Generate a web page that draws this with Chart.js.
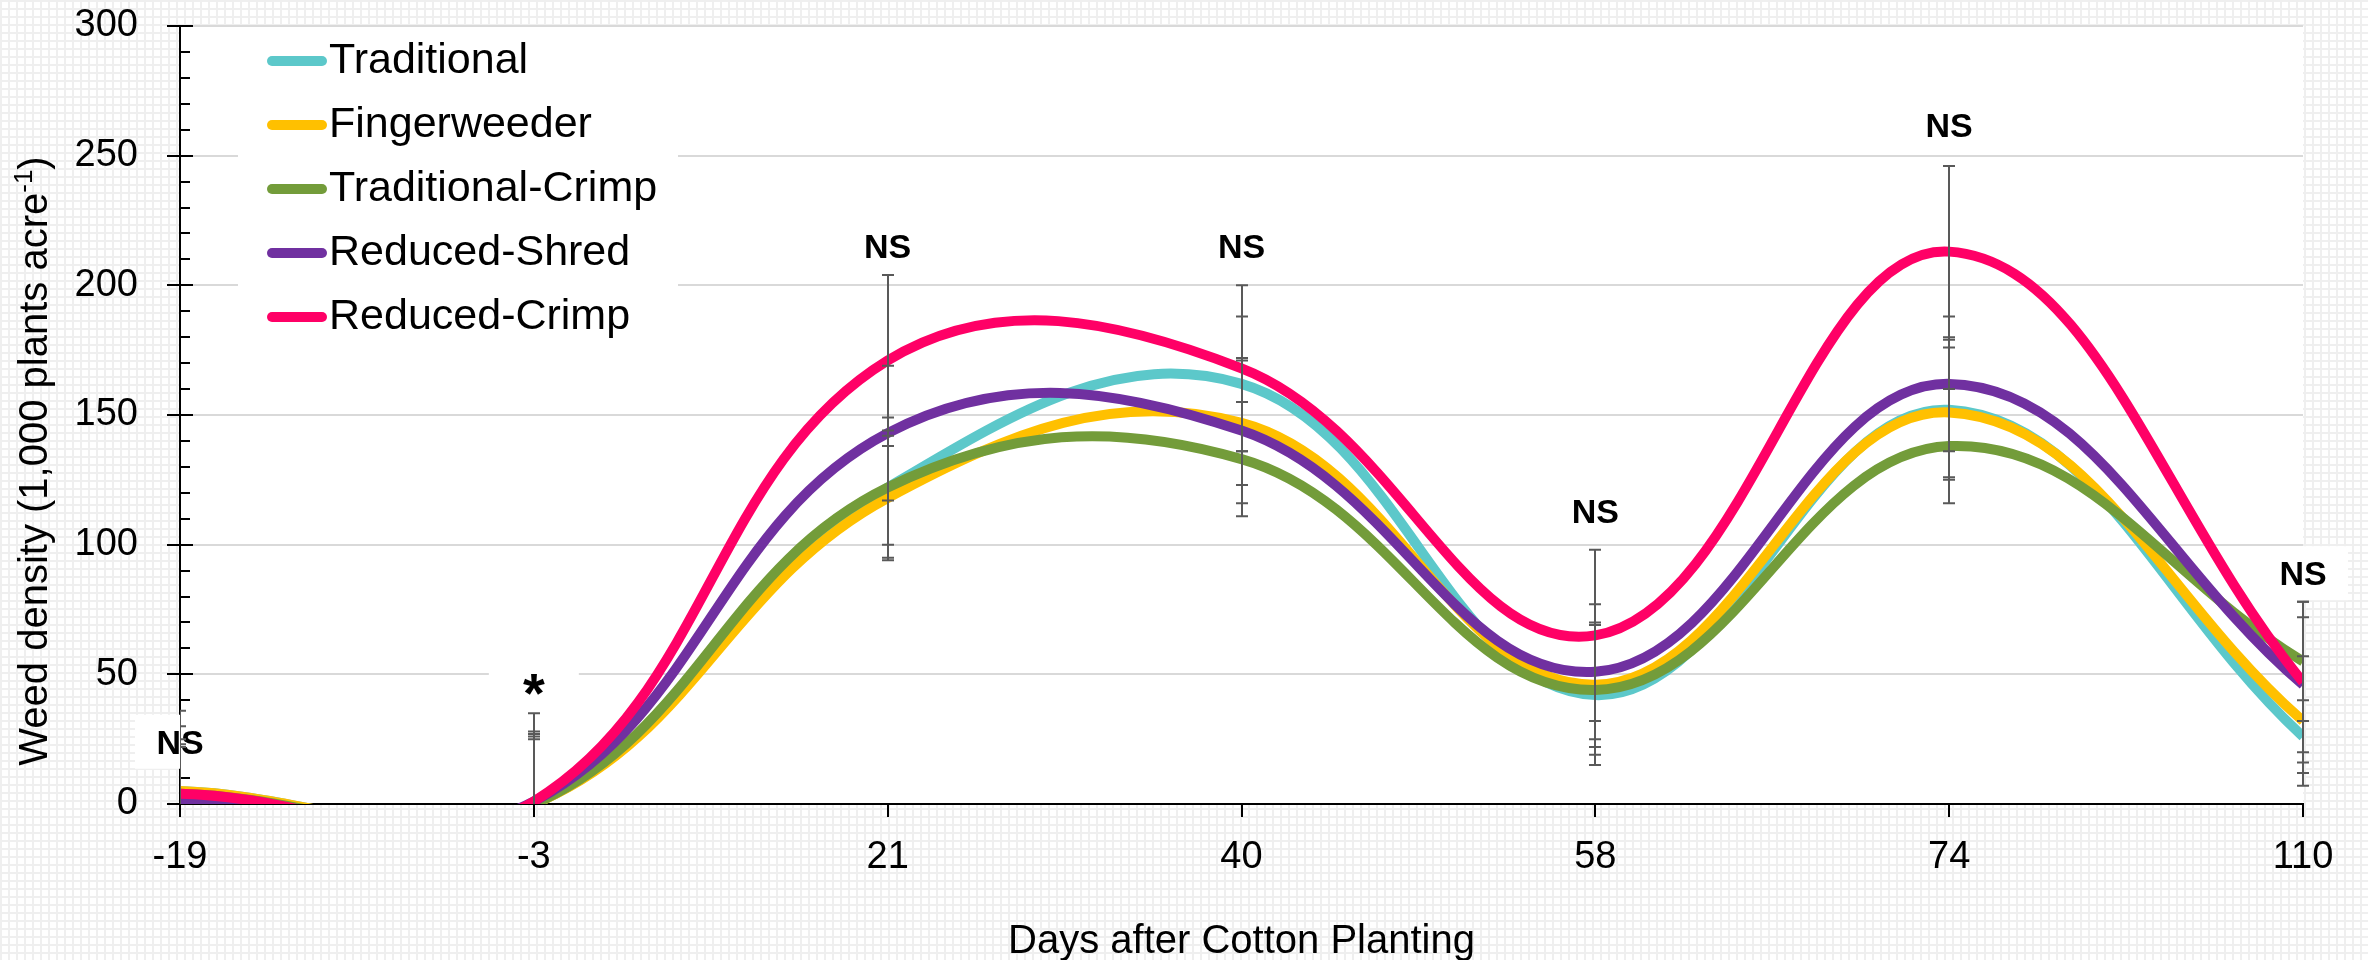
<!DOCTYPE html>
<html>
<head>
<meta charset="utf-8">
<script src="https://cdn.jsdelivr.net/npm/chart.js@4.4.1/dist/chart.umd.min.js"></script>
<style>
  html, body { margin: 0; padding: 0; }
  body {
    width: 2368px;
    height: 960px;
    overflow: hidden;
    background-color: #fff;
    background-image: linear-gradient(#efefef 2px, transparent 2px),
                      linear-gradient(90deg, #efefef 2px, transparent 2px);
    background-size: 8px 8px;
  }
</style>
</head>
<body>
<canvas id="chart" width="2368" height="960"></canvas>
<script>
// days after cotton planting (x categories)
const days = ['-19', '-3', '21', '40', '58', '74', '110'];

// weed density, 1,000 plants per acre
const traditional      = [5, 0, 122, 162, 42, 152, 26];
const fingerweeder     = [5, 0, 118, 147, 46, 151, 32];
const traditional_crimp = [4, 0, 122, 133, 44, 138, 55];
const reduced_shred    = [1, 1, 143, 144, 51, 162, 46];
const reduced_crimp    = [4, 1, 171, 168, 65, 213, 47];

// standard errors
const traditional_err      = [25, 35, 27, 26, 27, 27, 14];
const fingerweeder_err     = [20, 28, 24, 24, 24, 25, 25];
const traditional_crimp_err = [18, 27, 22, 22, 25, 22, 23];
const reduced_shred_err    = [22, 25, 26, 28, 26, 26, 26];
const reduced_crimp_err    = [32, 24, 33, 32, 33, 33, 31];

// significance letters and the level (in data units) they sit at
const significance    = ['NS', '*', 'NS', 'NS', 'NS', 'NS', 'NS'];
const significance_at = [24, 48, 215, 215, 113, 262, 89];

const y_ticks = [0, 50, 100, 150, 200, 250, 300];

const FONT = '"Liberation Sans", Arial, sans-serif';

const series = [
  { label: 'Traditional',       data: traditional,       err: traditional_err,       color: '#5CC8CA' },
  { label: 'Fingerweeder',      data: fingerweeder,      err: fingerweeder_err,      color: '#FFC000' },
  { label: 'Traditional-Crimp', data: traditional_crimp, err: traditional_crimp_err, color: '#739C3A' },
  { label: 'Reduced-Shred',     data: reduced_shred,     err: reduced_shred_err,     color: '#7030A0' },
  { label: 'Reduced-Crimp',     data: reduced_crimp,     err: reduced_crimp_err,     color: '#FF0066' },
];

const decorations = {
  id: 'decorations',
  beforeDraw(chart) {
    const { ctx, chartArea: a } = chart;
    ctx.save();
    ctx.fillStyle = '#fff';
    ctx.fillRect(a.left, a.top, a.right - a.left, a.bottom - a.top);
    ctx.restore();
  },
  beforeDatasetsDraw(chart) {
    const { ctx, chartArea: a } = chart;
    const x = chart.scales.x, y = chart.scales.y;
    ctx.save();

    // minor ticks + inner half of major ticks on the y axis
    ctx.strokeStyle = '#000';
    ctx.lineWidth = 2;
    for (let v = 0; v <= 300; v += 10) {
      const py = Math.round(y.getPixelForValue(v));
      const len = v % 50 === 0 ? 13 : 10;
      ctx.beginPath();
      ctx.moveTo(a.left, py);
      ctx.lineTo(a.left + len, py);
      ctx.stroke();
    }

    // legend
    ctx.fillStyle = '#fff';
    ctx.fillRect(238, 30, 440, 320);
    series.forEach((s, i) => {
      const ly = 61 + 64 * i;
      ctx.strokeStyle = s.color;
      ctx.lineWidth = 10;
      ctx.lineCap = 'round';
      ctx.beginPath();
      ctx.moveTo(272, ly);
      ctx.lineTo(322, ly);
      ctx.stroke();
      ctx.fillStyle = '#000';
      ctx.font = '43px ' + FONT;
      ctx.textBaseline = 'middle';
      ctx.textAlign = 'left';
      ctx.fillText(s.label, 329, ly);
    });

    // significance labels on white boxes
    significance.forEach((t, j) => {
      const px = x.getPixelForValue(j);
      const py = y.getPixelForValue(significance_at[j]);
      ctx.fillStyle = '#fff';
      ctx.fillRect(px - 45, py - 27, 90, 54);
      ctx.fillStyle = '#000';
      ctx.textAlign = 'center';
      ctx.textBaseline = 'alphabetic';
      if (t === '*') {
        ctx.font = 'bold 56px ' + FONT;
        ctx.fillText(t, px, py + 32);
      } else {
        ctx.font = 'bold 34px ' + FONT;
        ctx.fillText(t, px, py + 12);
      }
    });

    // y axis title with superscript
    ctx.translate(33, 461);
    ctx.rotate(-Math.PI / 2);
    ctx.fillStyle = '#000';
    ctx.textBaseline = 'alphabetic';
    ctx.textAlign = 'left';
    const main = 'Weed density (1,000 plants acre';
    ctx.font = '40px ' + FONT;
    const w_main = ctx.measureText(main).width;
    const w_close = ctx.measureText(')').width;
    ctx.font = '26px ' + FONT;
    const w_sup = ctx.measureText('-1').width;
    let x0 = -(w_main + w_sup + w_close) / 2;
    ctx.font = '40px ' + FONT;
    ctx.fillText(main, x0, 14);
    ctx.font = '26px ' + FONT;
    ctx.fillText('-1', x0 + w_main, 14 - 15);
    ctx.font = '40px ' + FONT;
    ctx.fillText(')', x0 + w_main + w_sup, 14);
    ctx.restore();
  },
  afterDatasetsDraw(chart) {
    const { ctx, chartArea: a } = chart;
    const x = chart.scales.x, y = chart.scales.y;
    ctx.save();
    ctx.beginPath();
    ctx.rect(a.left, 0, a.right - a.left + 6, a.bottom);
    ctx.clip();
    ctx.strokeStyle = '#595959';
    ctx.lineWidth = 2;
    series.forEach((s) => {
      s.data.forEach((v, j) => {
        const px = Math.round(x.getPixelForValue(j));
        const top = y.getPixelForValue(v + s.err[j]);
        const bot = y.getPixelForValue(v - s.err[j]);
        ctx.beginPath();
        ctx.moveTo(px, top);
        ctx.lineTo(px, bot);
        ctx.moveTo(px - 6, top);
        ctx.lineTo(px + 6, top);
        ctx.moveTo(px - 6, bot);
        ctx.lineTo(px + 6, bot);
        ctx.stroke();
      });
    });
    ctx.restore();
  }
};

const ctx = document.getElementById('chart').getContext('2d');
const chart = new Chart(ctx, {
  type: 'line',
  data: {
    labels: days,
    datasets: series.map((s, i) => ({
      label: s.label,
      data: s.data,
      borderColor: s.color,
      backgroundColor: s.color,
      borderWidth: 10,
      pointRadius: 0,
      tension: 0.4,
      capBezierPoints: false,
      fill: false,
      clip: 0,
      order: series.length - i,
    })),
  },
  options: {
    responsive: false,
    devicePixelRatio: 1,
    animation: false,
    layout: { padding: { top: 26, right: 65, left: 0, bottom: 0 } },
    plugins: {
      legend: { display: false },
      tooltip: { enabled: false },
    },
    scales: {
      x: {
        type: 'category',
        offset: false,
        grid: {
          drawOnChartArea: false,
          drawTicks: true,
          tickLength: 13,
          color: '#000',
          lineWidth: 2,
        },
        border: { color: '#000', width: 2 },
        ticks: {
          color: '#000',
          font: { family: FONT, size: 38 },
          padding: 18,
          maxRotation: 0,
          autoSkip: false,
        },
        title: {
          display: true,
          text: 'Days after Cotton Planting',
          color: '#000',
          font: { family: FONT, size: 40, lineHeight: 0.9 },
          padding: { top: 0, bottom: 0 },
        },
        afterFit(scale) {
          scale.height = 156;
          scale.paddingLeft = 0;
          scale.paddingRight = 0;
        },
      },
      y: {
        min: 0,
        max: 300,
        afterBuildTicks(scale) { scale.ticks = y_ticks.map(v => ({ value: v })); },
        grid: {
          color: (c) => (c.tick && c.tick.value === 0 ? 'rgba(0,0,0,0)' : '#d9d9d9'),
          lineWidth: 2,
          tickColor: '#000',
          tickLength: 13,
          tickWidth: 2,
        },
        border: { color: '#000', width: 2 },
        ticks: {
          color: '#000',
          font: { family: FONT, size: 38 },
          padding: 29,
        },
        afterFit(scale) {
          scale.width = 180;
          scale.paddingTop = 0;
          scale.paddingBottom = 0;
        },
      },
    },
  },
  plugins: [decorations],
});
</script>
</body>
</html>
